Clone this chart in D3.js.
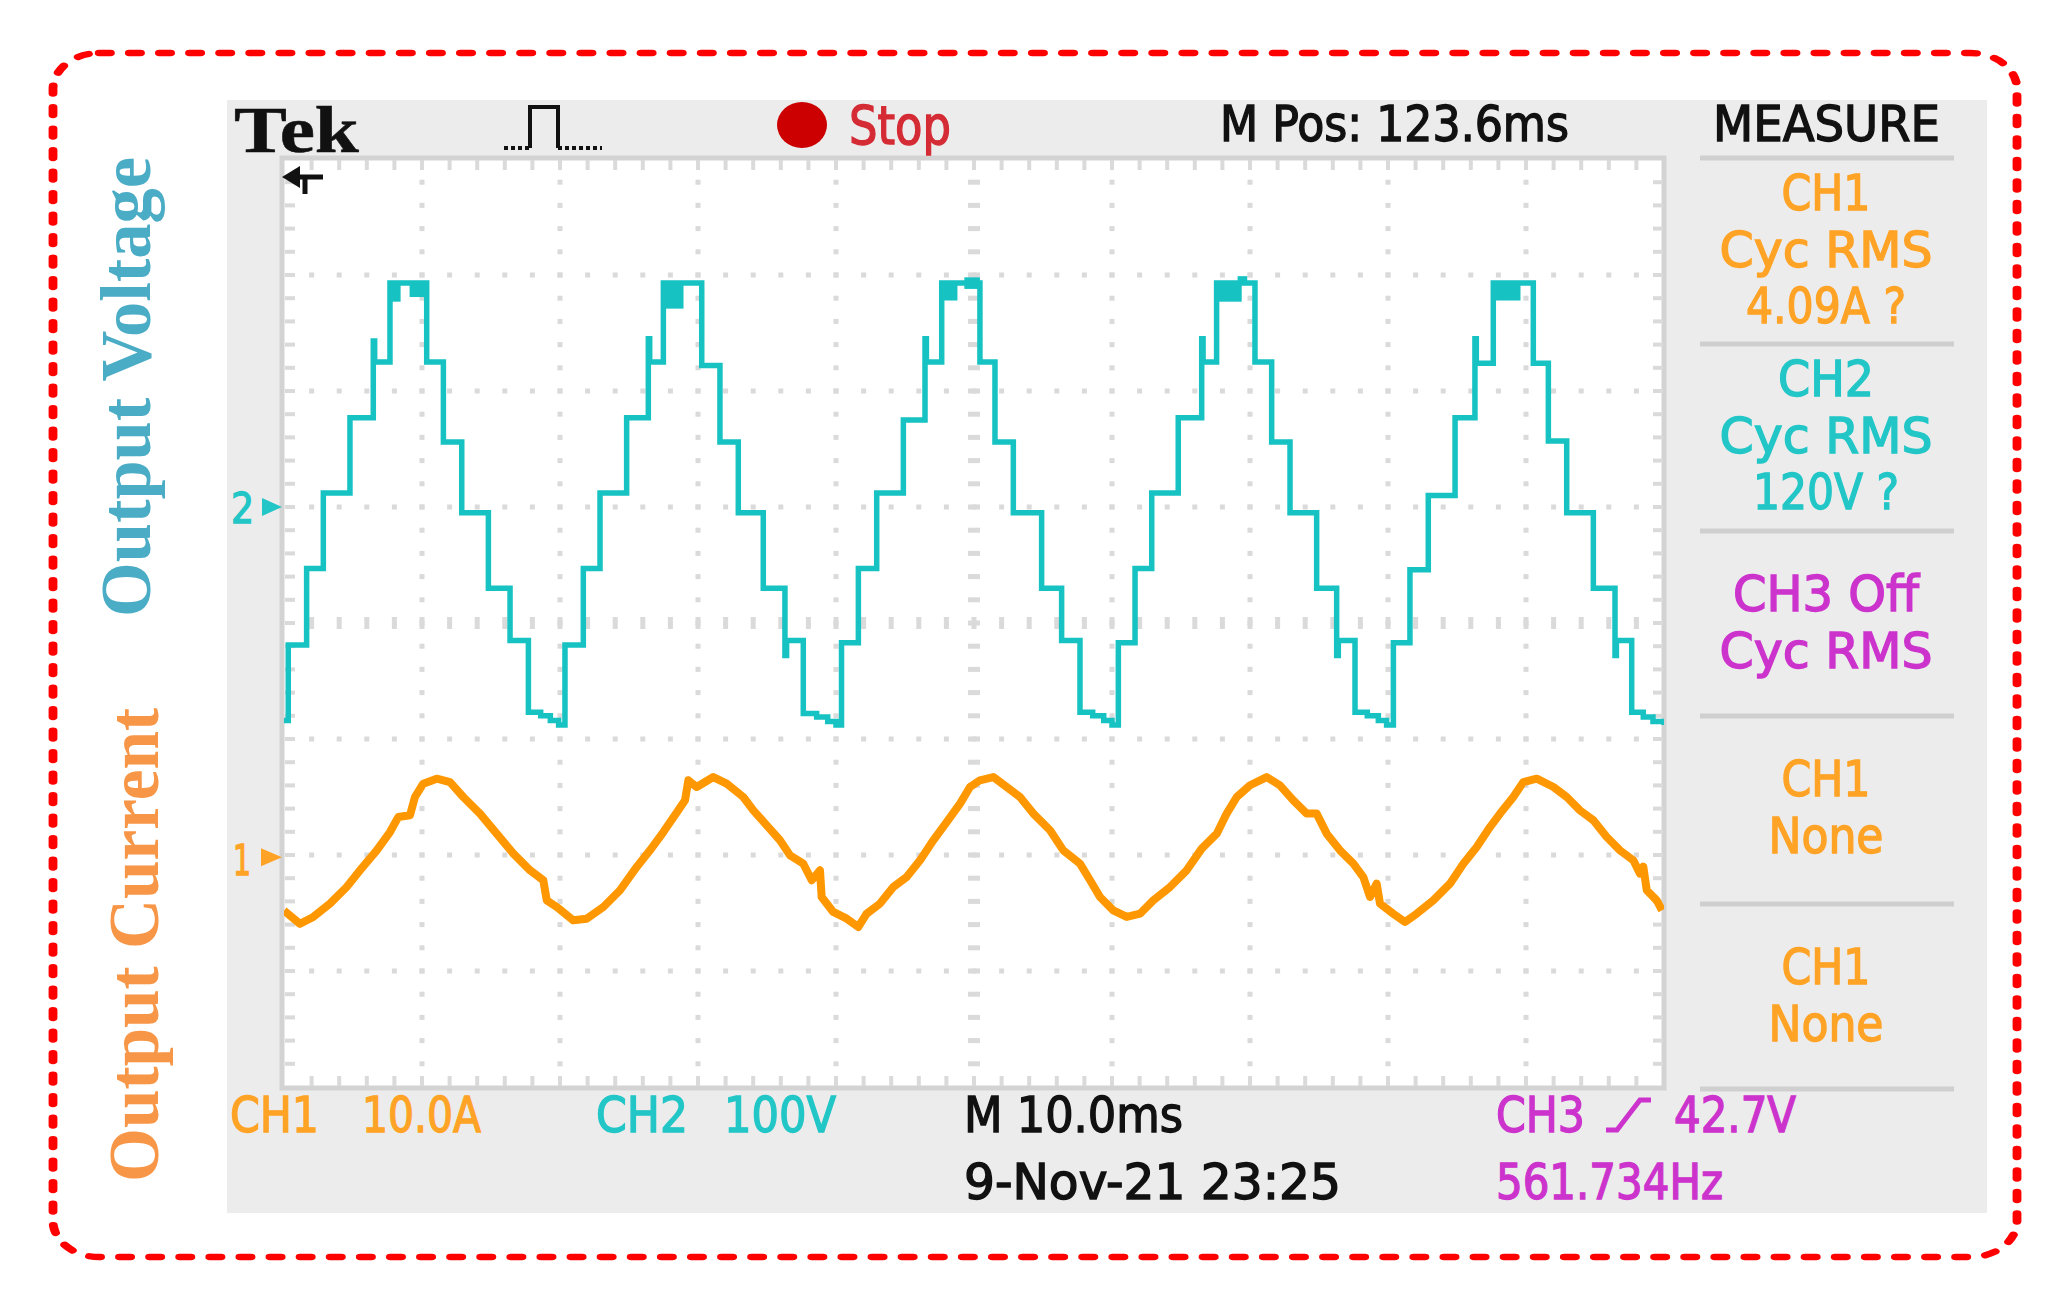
<!DOCTYPE html>
<html><head><meta charset="utf-8">
<script src="https://cdn.jsdelivr.net/npm/d3@7"></script>
<style>html,body{margin:0;padding:0;background:#fff;}svg{display:block;}</style>
</head><body>
<script>
// ---------------- DATA ----------------
// CH2 output voltage (V): step levels, each [time ms, volts] holds until next entry
const ch2Steps = [
[0,-184],[0.31,-119],[1.64,-53],[2.85,12],[4.78,77],[6.47,143],[6.57,125],[7.68,193],
[10.34,125],[11.55,56],[12.88,-5],[14.81,-70],[16.38,-115],[17.71,-177],[18.6,-180],[19.3,-184],[19.9,-188],
[20.36,-119],[21.69,-53],[22.9,12],[24.83,77],[26.4,145],[26.5,125],[27.49,193],
[30.27,122],[31.59,56],[32.92,-5],[34.73,-70],[36.3,-128],[36.42,-115],[37.63,-178],[38.6,-181],[39.4,-185],[40.0,-188],
[40.4,-117],[41.62,-53],[42.95,12],[44.88,75],[46.45,145],[46.55,125],[47.66,193],
[50.43,125],[51.52,56],[52.85,-5],[54.9,-70],[56.35,-115],[57.68,-177],[58.6,-180],[59.4,-184],[60.0,-188],
[60.46,-117],[61.67,-53],[62.88,12],[64.8,77],[66.5,145],[66.6,125],[67.58,193],
[70.36,125],[71.57,56],[72.9,-5],[74.83,-70],[76.28,-128],[76.4,-115],[77.61,-177],[78.5,-180],[79.3,-184],[79.9,-188],
[80.39,-117],[81.59,-54],[82.92,10],[84.86,77],[86.3,145],[86.4,124],[87.63,193],
[90.53,124],[91.62,57],[92.95,-5],[94.88,-70],[96.45,-128],[96.55,-115],[97.66,-177],[98.5,-181],[99.2,-185],[100,-188]
];
// ripple bands on the voltage peaks: [t0 ms, t1 ms, Vlow, Vhigh]
const ch2PeakBands = [
[7.68,8.45,177,193],[9.1,10.34,181,193],
[27.49,28.95,171,193],
[47.66,48.8,178,193],[49.3,50.43,188,198],
[67.58,69.4,177,193],[69.1,69.8,193,199],
[87.63,89.6,178,193]
];
// CH1 output current (A): [time ms, amps]
const ch1Samples = [
[0,-4.6],[1.16,-5.73],[2.12,-5.14],[3.33,-3.99],[4.54,-2.56],[5.51,-1.12],[6.72,0.6],[7.68,2.18],[8.28,3.47],[9.13,3.62],[9.49,5.2],[10.09,6.35],[11.07,6.78],[12.03,6.49],[12.99,5.2],[14.2,3.77],[15.41,2.04],[16.62,0.32],[17.83,-1.12],[18.79,-1.98],[19.04,-3.71],[19.76,-4.28],[20.96,-5.43],[21.93,-5.29],[23.14,-4.28],[24.35,-2.84],[25.56,-0.83],[26.52,0.6],[27.49,2.18],[28.57,4.05],[29.06,4.91],[29.3,6.64],[29.91,6.06],[31.11,6.92],[32.08,6.35],[33.28,5.2],[34.01,4.05],[34.98,2.76],[35.94,1.47],[36.67,0.17],[37.63,-0.55],[38.24,-1.98],[38.84,-1.12],[38.96,-3.42],[39.8,-4.71],[40.78,-5.29],[41.62,-6.0],[42.22,-4.86],[43.19,-3.99],[44.15,-2.56],[45.12,-1.7],[46.09,-0.26],[47.05,1.47],[48.02,3.04],[48.99,4.63],[49.71,6.06],[50.43,6.64],[51.4,6.92],[52.37,6.06],[53.33,5.2],[54.3,3.77],[55.51,2.33],[56.47,0.6],[57.68,-0.55],[58.41,-1.98],[59.13,-3.42],[60.09,-4.57],[61.07,-5.14],[62.03,-4.86],[62.99,-3.71],[64.2,-2.56],[65.41,-1.12],[66.5,0.75],[67.59,2.04],[68.31,3.77],[69.04,5.2],[70.0,6.21],[71.21,6.92],[72.17,6.21],[73.14,4.91],[74.11,3.77],[74.83,3.77],[75.56,2.04],[76.52,0.6],[77.49,-0.55],[78.21,-1.7],[78.7,-3.42],[79.18,-2.27],[79.42,-3.99],[80.38,-4.86],[81.23,-5.57],[82.08,-4.86],[83.28,-3.71],[84.49,-2.27],[85.46,-0.55],[86.43,0.89],[87.39,2.61],[88.12,3.77],[89.08,5.2],[89.81,6.49],[90.78,6.78],[91.99,6.06],[92.95,5.2],[93.91,4.05],[94.88,3.19],[95.85,1.75],[96.81,0.6],[97.78,-0.26],[98.26,-1.41],[98.5,-0.8],[98.75,-2.84],[99.47,-3.71],[99.86,-4.57]
];
// scope settings
const timePerDiv = 10;            // ms/div
const ch1VoltsPerDiv = 10;        // A/div
const ch2VoltsPerDiv = 100;       // V/div
const ch1Position = -2.02;        // div
const ch2Position = 1.0;          // div
// texts
const headerTexts = ["Tek", "Stop", "M Pos: 123.6ms", "MEASURE"];
const measureLines = [["CH1","Cyc RMS","4.09A ?"],["CH2","Cyc RMS","120V ?"],["CH3 Off","Cyc RMS"],["CH1","None"],["CH1","None"]];
const measureChannels = ["ch1","ch2","ch3","ch1","ch1"];
const footerTexts = ["CH1","10.0A","CH2","100V","M 10.0ms","9-Nov-21 23:25","CH3","42.7V","561.734Hz"];
const sideTitles = ["Output Voltage","Output Current"];

// ---------------- LAYOUT / STYLE ----------------
const col = {ch1:"#FFA326", ch2:"#22C6C6", ch3:"#CC33CC", tr1:"#FF9800", tr2:"#17C2C2"};
const tekFont = "'Liberation Sans Narrow','DejaVu Sans Condensed','Liberation Sans',Arial,sans-serif";
const svg = d3.select("body").append("svg").attr("width",2064).attr("height",1304);

// dashed rounded frame (anisotropic like the source figure)
const sx = 1.4;
svg.append("g").attr("transform",`scale(${sx},1)`)
  .append("rect").attr("x",53/sx).attr("y",53).attr("width",(2017-53)/sx).attr("height",1257-53)
  .attr("rx",33).attr("ry",36).attr("fill","none").attr("stroke","#FF0000")
  .attr("stroke-width",6.3).attr("stroke-dasharray","8 13.5").attr("stroke-linecap","round");

// scope screen panel
svg.append("rect").attr("x",227).attr("y",100).attr("width",1760).attr("height",1113).attr("fill","#ECECEC");

// graticule
const gL=284, gT=159, gW=1380, gH=928;
const x = d3.scaleLinear().domain([0, 10*timePerDiv]).range([gL, gL+gW]);
const yV = d3.scaleLinear().domain([(-4-ch2Position)*ch2VoltsPerDiv,(4-ch2Position)*ch2VoltsPerDiv]).range([gT+gH, gT]);
const yI = d3.scaleLinear().domain([(-4-ch1Position)*ch1VoltsPerDiv,(4-ch1Position)*ch1VoltsPerDiv]).range([gT+gH, gT]);
const dx = gW/10, dy = gH/8;

svg.append("rect").attr("x",gL-2).attr("y",gT-1).attr("width",gW+2).attr("height",gH+2)
  .attr("fill","#fff").attr("stroke","#D3D3D3").attr("stroke-width",5);

const grid = svg.append("g").attr("fill","#DADADA");
// edge ticks
d3.range(1,50).forEach(j=>{
  const xx = gL + j*dx/5;
  grid.append("rect").attr("x",xx-2).attr("y",gT+1).attr("width",4).attr("height",10);
  grid.append("rect").attr("x",xx-2).attr("y",gT+gH-11).attr("width",4).attr("height",10);
});
d3.range(1,40).forEach(i=>{
  const yy = gT + i*dy/5;
  grid.append("rect").attr("x",gL+1).attr("y",yy-2).attr("width",10).attr("height",4);
  grid.append("rect").attr("x",gL+gW-11).attr("y",yy-2).attr("width",10).attr("height",4);
});
// major dotted lines
d3.range(1,8).forEach(k=>{
  const yy = gT + k*dy;
  d3.range(1,50).forEach(j=>{
    const xx = gL + j*dx/5;
    if (k===4) grid.append("rect").attr("x",xx-2.5).attr("y",yy-6).attr("width",5).attr("height",12);
    else grid.append("rect").attr("x",xx-2.5).attr("y",yy-2.5).attr("width",5).attr("height",5);
  });
});
d3.range(1,10).forEach(k=>{
  const xx = gL + k*dx;
  d3.range(1,40).forEach(i=>{
    const yy = gT + i*dy/5;
    if (k===5) grid.append("rect").attr("x",xx-6).attr("y",yy-2.5).attr("width",12).attr("height",5);
    else grid.append("rect").attr("x",xx-2.5).attr("y",yy-2.5).attr("width",5).attr("height",5);
  });
});

// clip
svg.append("clipPath").attr("id","clipG").append("rect").attr("x",gL).attr("y",gT).attr("width",gW).attr("height",gH);
const traces = svg.append("g").attr("clip-path","url(#clipG)");

// CH1 current trace
traces.append("path").datum(ch1Samples)
  .attr("d", d3.line().x(d=>x(d[0])).y(d=>yI(d[1])).curve(d3.curveLinear))
  .attr("fill","none").attr("stroke",col.tr1).attr("stroke-width",8).attr("stroke-linejoin","round");

// CH2 voltage trace
traces.selectAll("rect.band").data(ch2PeakBands).enter().append("rect")
  .attr("x",d=>x(d[0])).attr("width",d=>x(d[1])-x(d[0]))
  .attr("y",d=>yV(d[3])).attr("height",d=>yV(d[2])-yV(d[3])).attr("fill",col.tr2);
traces.append("path").datum(ch2Steps)
  .attr("d", d3.line().x(d=>x(d[0])).y(d=>yV(d[1])).curve(d3.curveStepAfter))
  .attr("fill","none").attr("stroke",col.tr2).attr("stroke-width",5.5).attr("stroke-linejoin","miter");

// ground markers
const g2 = yV(0), g1 = yI(0);
function label(xp, yp, str, o={}) {
  const fill = o.fill||"#111";
  const t = svg.append("text").attr("x",xp).attr("y",yp).text(str)
    .attr("font-size",o.size||49).attr("fill",fill)
    .attr("font-family",o.family||tekFont).attr("font-weight",o.weight||"normal")
    .attr("text-anchor",o.anchor||"start")
    .attr("stroke",fill).attr("stroke-width",o.sw===undefined?1.3:o.sw);
  if (o.w) t.attr("textLength",o.w).attr("lengthAdjust","spacingAndGlyphs");
  return t;
}
label(231, g2+16, "2", {size:42, fill:col.ch2, w:23});
svg.append("path").attr("d",`M262,${g2-9} L282,${g2} L262,${g2+9} Z`).attr("fill",col.ch2);
label(233, g1+18, "1", {size:42, fill:col.ch1, w:18});
svg.append("path").attr("d",`M261,${g1-9} L282,${g1} L261,${g1+9} Z`).attr("fill",col.ch1);

// header
label(234, 152, headerTexts[0], {size:66, weight:"bold", family:"'Liberation Serif','DejaVu Serif',serif", w:125, sw:0.5});
// trigger pulse icon
svg.append("path").attr("d","M530,148 V107 H558 V148").attr("fill","none").attr("stroke","#111").attr("stroke-width",4);
svg.append("path").attr("d","M504,148 H530 M558,148 H602").attr("fill","none").attr("stroke","#111").attr("stroke-width",4).attr("stroke-dasharray","4 3");
svg.append("ellipse").attr("cx",802).attr("cy",125).attr("rx",25).attr("ry",23).attr("fill","#CC0000");
label(849, 144, headerTexts[1], {size:54, fill:"#D42B35", w:102});
label(1220, 141, headerTexts[2], {w:349});
label(1713, 141, headerTexts[3], {w:227});
// trigger position arrow
svg.append("path").attr("d","M282,177 L300,166 L300,188 Z").attr("fill","#111");
svg.append("path").attr("d","M298,177 H323 M305,177 V194").attr("stroke","#111").attr("stroke-width",5);

// measure panel
const sepY = [158,344,531,716,904,1089];
sepY.forEach(yy=> svg.append("line").attr("x1",1700).attr("x2",1954).attr("y1",yy).attr("y2",yy)
  .attr("stroke","#CFCFCF").attr("stroke-width",5));
const widths = {"CH1":89,"CH2":96,"Cyc RMS":213,"4.09A ?":160,"120V ?":146,"CH3 Off":186,"None":115};
measureLines.forEach((lines,i)=>{
  const top = sepY[i];
  const first = lines.length===3 ? top+52 : top+80;
  lines.forEach((s,j)=> label(1826, first + j*56.5, s, {anchor:"middle", fill:col[measureChannels[i]], w:widths[s]}));
});

// footer
label(230, 1132, footerTexts[0], {fill:col.ch1, w:89});
label(362, 1132, footerTexts[1], {fill:col.ch1, w:119});
label(596, 1132, footerTexts[2], {fill:col.ch2, w:92});
label(724, 1132, footerTexts[3], {fill:col.ch2, w:112});
label(964, 1132, footerTexts[4], {w:219});
label(964, 1199, footerTexts[5], {w:377});
label(1496, 1132, footerTexts[6], {fill:col.ch3, w:89});
svg.append("path").attr("d","M1606,1130 H1617 L1640,1100 H1651").attr("fill","none").attr("stroke",col.ch3).attr("stroke-width",5);
label(1674, 1132, footerTexts[7], {fill:col.ch3, w:122});
label(1496, 1199, footerTexts[8], {fill:col.ch3, w:227});

// side titles
const serif = "'Liberation Serif','Times New Roman',serif";
svg.append("text").attr("transform","translate(150,617) rotate(-90)").text(sideTitles[0])
  .attr("font-family",serif).attr("font-weight","bold").attr("font-size",72).attr("fill","#4BACC6")
  .attr("textLength",460).attr("lengthAdjust","spacingAndGlyphs");
svg.append("text").attr("transform","translate(158,1182) rotate(-90)").text(sideTitles[1])
  .attr("font-family",serif).attr("font-weight","bold").attr("font-size",72).attr("fill","#F79646")
  .attr("textLength",474).attr("lengthAdjust","spacingAndGlyphs");
</script>
</body></html>
